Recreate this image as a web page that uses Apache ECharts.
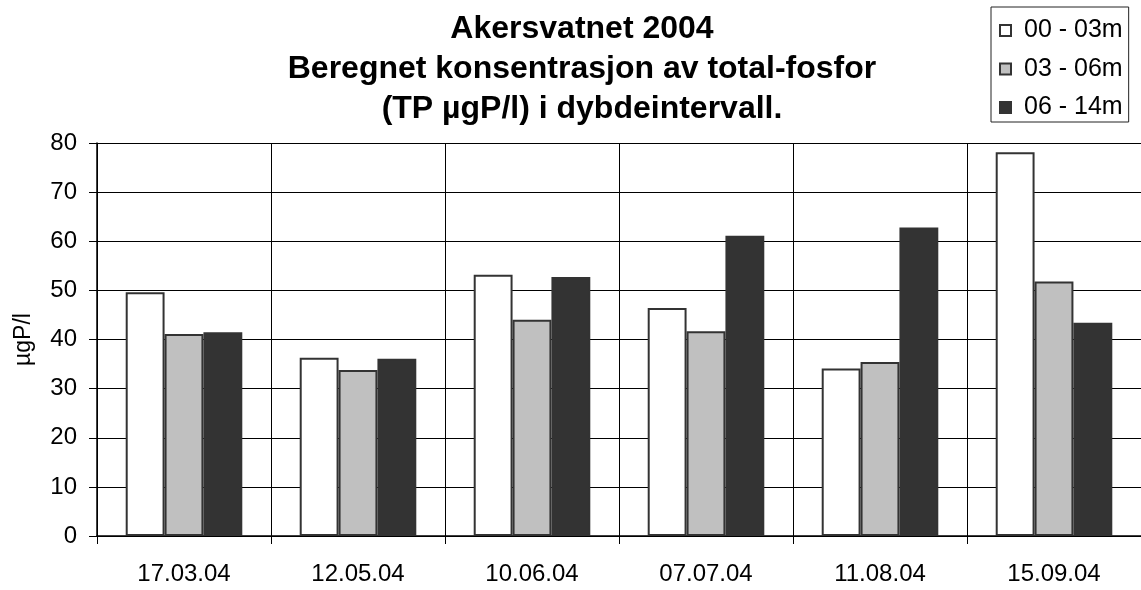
<!DOCTYPE html>
<html>
<head>
<meta charset="utf-8">
<script src="https://cdn.jsdelivr.net/npm/echarts@6/dist/echarts.min.js"></script>
<style>
  html, body { margin: 0; padding: 0; background: #fff; }
  #main { width: 1141px; height: 590px; }
</style>
</head>
<body>
<div id="main"></div>
<script>
  var categories = ['17.03.04', '12.05.04', '10.06.04', '07.07.04', '11.08.04', '15.09.04'];
  var seriesNames = ['00 - 03m', '03 - 06m', '06 - 14m'];
  var depth0003 = [49.6, 36.3, 53.2, 46.4, 34.1, 78.1];
  var depth0306 = [41.1, 33.8, 44.0, 41.7, 35.4, 51.8];
  var depth0614 = [41.5, 36.1, 52.7, 61.1, 62.8, 43.4];
  var colors = ['#ffffff', '#c0c0c0', '#333333'];

  var chart = echarts.init(document.getElementById('main'));
  var font = 'Liberation Sans, Arial, sans-serif';

  function bar(name, data, color) {
    return {
      name: name,
      type: 'bar',
      data: data,
      barGap: '0%',
      barCategoryGap: '33%',
      itemStyle: { color: color, borderColor: '#333', borderWidth: 2 },
      emphasis: { disabled: true }
    };
  }

  chart.setOption({
    animation: false,
    title: {
      text: 'Akersvatnet 2004\nBeregnet konsentrasjon av total-fosfor\n(TP µgP/l) i dybdeintervall.',
      left: 582,
      top: 9,
      padding: 0,
      textAlign: 'center',
      textStyle: { fontFamily: font, fontSize: 32, fontWeight: 'bold', color: '#000', lineHeight: 40 }
    },
    legend: {
      orient: 'vertical',
      left: 991,
      top: 7,
      padding: [11, 6, 2, 8],
      itemGap: 13.5,
      itemWidth: 11,
      itemHeight: 11,
      borderColor: '#222',
      borderWidth: 1,
      icon: 'rect',
      data: seriesNames,
      textStyle: { fontFamily: font, fontSize: 25, lineHeight: 25, color: '#000', padding: [0, 0, 0, 8] }
    },
    grid: { left: 97, right: -3, top: 143, bottom: 54, containLabel: false },
    xAxis: {
      type: 'category',
      data: categories,
      axisLine: { lineStyle: { color: '#000', width: 1.5 } },
      axisTick: { show: true, length: 8, lineStyle: { color: '#000' } },
      axisLabel: { fontFamily: font, fontSize: 24, color: '#000', margin: 26 },
      splitLine: { show: true, lineStyle: { color: '#000', width: 1 } }
    },
    yAxis: {
      type: 'value',
      min: 0,
      max: 80,
      interval: 10,
      name: 'µgP/l',
      nameLocation: 'middle',
      nameGap: 62,
      nameTextStyle: { fontFamily: font, fontSize: 23, color: '#000' },
      axisLine: { show: true, lineStyle: { color: '#000', width: 1.5 } },
      axisTick: { show: true, length: 8, lineStyle: { color: '#000' } },
      axisLabel: { fontFamily: font, fontSize: 24, color: '#000', margin: 20 },
      splitLine: { show: true, lineStyle: { color: '#000', width: 1 } }
    },
    series: [
      bar(seriesNames[0], depth0003, colors[0]),
      bar(seriesNames[1], depth0306, colors[1]),
      bar(seriesNames[2], depth0614, colors[2])
    ]
  });
</script>
</body>
</html>
